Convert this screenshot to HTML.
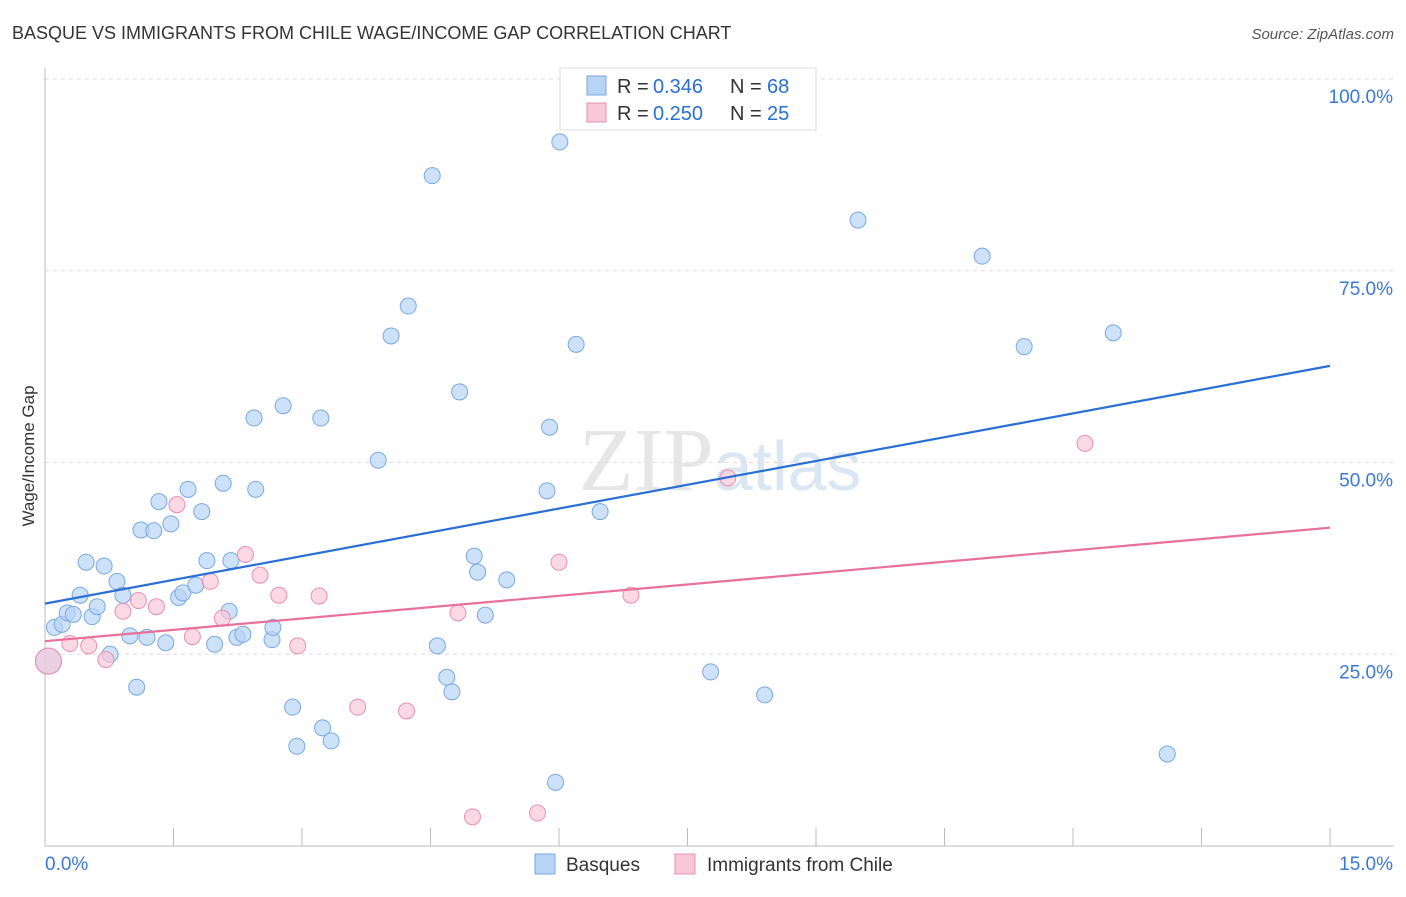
<!DOCTYPE html>
<html><head><meta charset="utf-8"><style>
body{margin:0;background:#fff;font-family:"Liberation Sans",sans-serif}
</style></head><body>
<svg id="c" width="1406" height="892" xmlns="http://www.w3.org/2000/svg">
<text x="12" y="39" font-size="18" fill="#333">BASQUE VS IMMIGRANTS FROM CHILE WAGE/INCOME GAP CORRELATION CHART</text>
<text x="1394" y="39" font-size="15" fill="#555" font-style="italic" text-anchor="end">Source: ZipAtlas.com</text>
<text x="720" y="490" font-size="90" fill="#e6e6e6" text-anchor="middle" font-family="Liberation Serif">ZIP<tspan font-family="Liberation Sans" fill="#dbe6f3" font-size="70">atlas</tspan></text>
<g id="grid"></g><g id="axes"></g><g id="lines"></g><g id="pts"></g>
<text transform="translate(34,456) rotate(-90)" font-size="17" fill="#333" text-anchor="middle">Wage/Income Gap</text>
<g>
<rect x="560" y="68" width="256" height="62" fill="#fff" stroke="#ddd"/>
<rect x="587" y="76" width="19" height="19" fill="#b8d4f5" stroke="#7aa8e0"/>
<text x="617" y="93" font-size="20" fill="#333">R =</text>
<text x="653" y="93" font-size="20" fill="#2a6fd6">0.346</text>
<text x="730" y="93" font-size="20" fill="#333">N =</text>
<text x="767" y="93" font-size="20" fill="#2a6fd6">68</text>
<rect x="587" y="103" width="19" height="19" fill="#f8c8d8" stroke="#e890b0"/>
<text x="617" y="120" font-size="20" fill="#333">R =</text>
<text x="653" y="120" font-size="20" fill="#2a6fd6">0.250</text>
<text x="730" y="120" font-size="20" fill="#333">N =</text>
<text x="767" y="120" font-size="20" fill="#2a6fd6">25</text>
</g>
<g>
<rect x="535" y="854" width="20" height="20" fill="#b8d4f5" stroke="#7aa8e0"/>
<text x="566" y="871" font-size="19" fill="#333">Basques</text>
<rect x="675" y="854" width="20" height="20" fill="#f8c8d8" stroke="#e890b0"/>
<text x="707" y="871" font-size="19" fill="#333">Immigrants from Chile</text>
</g>
</svg>
<script>
const blueX=[0.11,0.2,0.26,0.33,0.41,0.48,0.55,0.61,0.69,0.76,0.84,0.91,0.99,1.07,1.12,1.19,1.27,1.33,1.41,1.47,1.56,1.61,1.67,1.76,1.83,1.89,1.98,2.08,2.15,2.17,2.24,2.31,2.44,2.46,2.65,2.66,2.78,2.89,2.94,3.22,3.24,3.34,3.89,4.04,4.24,4.52,4.58,4.69,4.75,4.84,5.01,5.05,5.14,5.39,5.86,5.89,5.96,6.01,6.2,6.48,7.77,8.4,9.49,10.94,11.43,12.47,13.1,0.04];
const blueY=[28.5,28.9,30.4,30.2,32.7,37.0,29.9,31.2,36.5,25.0,34.5,32.7,27.4,20.7,41.2,27.2,41.1,44.9,26.5,42.0,32.4,33.0,46.5,34.0,43.6,37.2,26.3,47.3,30.6,37.2,27.2,27.6,55.8,46.5,26.9,28.5,57.4,18.1,13.0,55.8,15.4,13.7,50.3,66.5,70.4,87.4,26.1,22.0,20.1,59.2,37.8,35.7,30.1,34.7,46.3,54.6,8.3,91.8,65.4,43.6,22.7,19.7,81.6,76.9,65.1,66.9,12.0,24.1];
const pinkX=[0.04,0.29,0.51,0.71,0.91,1.09,1.3,1.54,1.72,1.93,2.07,2.34,2.51,2.73,2.95,3.2,3.65,4.22,4.82,4.99,5.75,6.0,6.84,7.97,12.14];
const pinkY=[24.1,26.4,26.1,24.3,30.6,32.0,31.2,44.5,27.3,34.5,29.7,38.0,35.3,32.7,26.1,32.6,18.1,17.6,30.4,3.8,4.3,37.0,32.7,48.0,52.5];
const yTicks=[25,50,75,100];
const fits=[{x0:0,y0:31.6,x1:15,y1:62.6,c:'#2a6fd6',n:'basques-trend-line'},{x0:0,y0:26.7,x1:15,y1:41.5,c:'#e8709a',n:'chile-trend-line'}];
const X0=45,X1=1330,Y0=846,PY=7.67;
const sx=v=>X0+(v/15)*(X1-X0), sy=v=>Y0-v*PY;
const NS='http://www.w3.org/2000/svg';
function mk(p,t,a){const e=document.createElementNS(NS,t);for(const k in a)e.setAttribute(k,a[k]);document.getElementById(p).appendChild(e);return e;}
yTicks.forEach(t=>{
 const l=mk('grid','line',{x1:X0,x2:1394,y1:sy(t),y2:sy(t),stroke:'#ddd','stroke-dasharray':'4,4'});
 
 
 const tx=mk('grid','text',{x:1393,y:sy(t)+24,'font-size':19,fill:'#3a78d8','text-anchor':'end'});
 tx.textContent=t.toFixed(1)+'%';
 
 
});
mk('axes','line',{x1:X0,x2:X0,y1:68,y2:846,stroke:'#bbb'});
mk('axes','line',{x1:X0,x2:1394,y1:846,y2:846,stroke:'#bbb'});
for(let i=0;i<=10;i++){const x=sx(i*1.5);const t=mk('axes','line',{x1:x,x2:x,y1:828,y2:846,stroke:'#bbb'});
 
 }
const a0=mk('axes','text',{x:45,y:870,'font-size':19,fill:'#3a78d8'});a0.textContent='0.0%';


const a1=mk('axes','text',{x:1393,y:870,'font-size':19,fill:'#3a78d8','text-anchor':'end'});a1.textContent='15.0%';


function dots(xs,ys,f,s,n){xs.forEach((x,i)=>{const c=mk('pts','circle',{cx:sx(x),cy:sy(ys[i]),r:(i==xs.length-1&&n=='basque-point')||(i==0&&n=='chile-point')?13:8,fill:f,'fill-opacity':0.7,stroke:s,'stroke-width':1});
 
 });}
dots(blueX,blueY,'#b8d4f5','#7aa8e0','basque-point');
dots(pinkX,pinkY,'#f8c8d8','#e890b0','chile-point');
fits.forEach(f=>{const l=mk('lines','line',{x1:sx(f.x0),y1:sy(f.y0),x2:sx(f.x1),y2:sy(f.y1),stroke:f.c,'stroke-width':2.2});
 
 });
document.getElementById('c').appendChild(document.getElementById('lines'));
</script>
</body></html>
